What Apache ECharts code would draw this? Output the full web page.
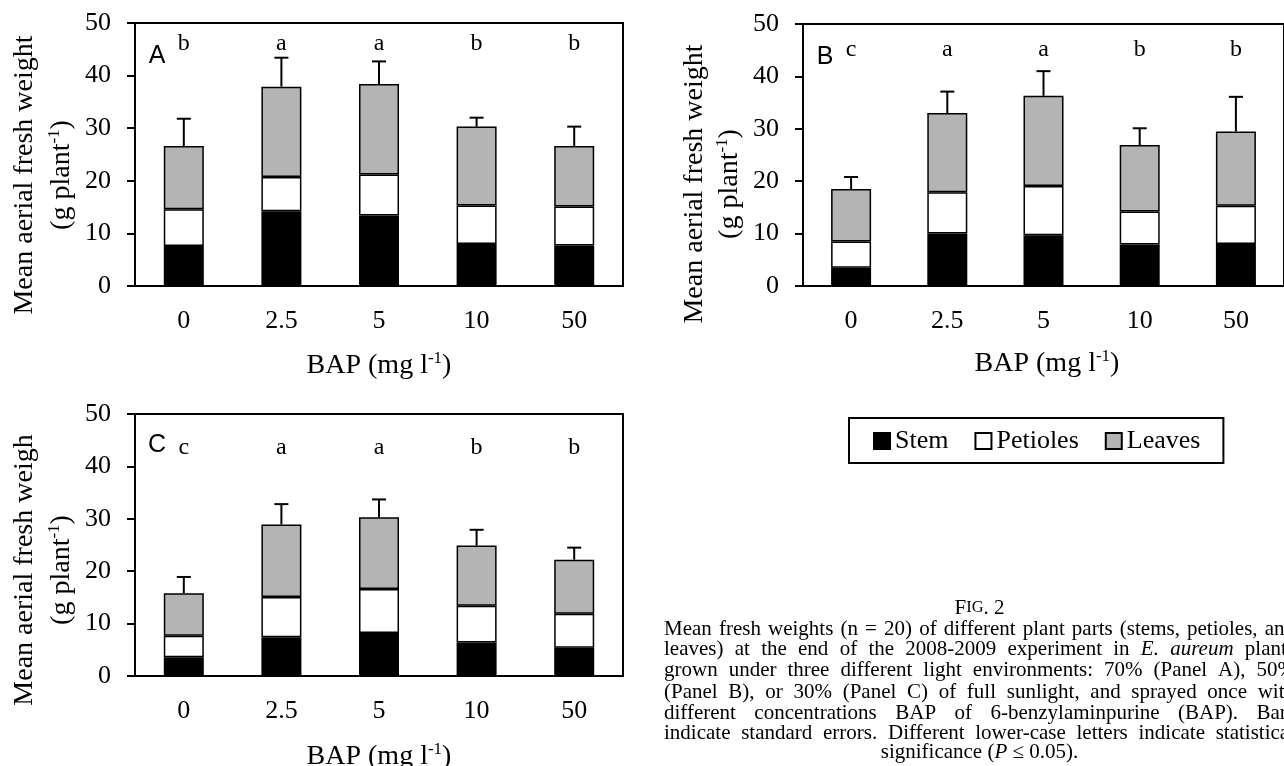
<!DOCTYPE html>
<html>
<head>
<meta charset="utf-8">
<script src="https://cdn.jsdelivr.net/npm/echarts@6/dist/echarts.min.js"></script>
<style>
  html, body { margin: 0; padding: 0; background: #fff; }
  #chart { width: 1284px; height: 766px; }
</style>
</head>
<body>
<div id="chart"></div>
<script>
// BAP concentrations (mg l-1)
const categories = ['0', '2.5', '5', '10', '50']

// Panel A (70% sunlight)
const stemA = [7.6, 14.2, 13.4, 8.0, 7.7]
const petiolesA = [7.0, 6.5, 7.8, 7.3, 7.4]
const leavesA = [12.0, 17.2, 17.2, 15.0, 11.5]
const seA = [5.2, 5.5, 4.3, 1.7, 3.7]
const sigA = ['b', 'a', 'a', 'b', 'b']

// Panel B (50% sunlight)
const stemB = [3.5, 10.0, 9.7, 7.9, 8.0]
const petiolesB = [5.0, 7.9, 9.4, 6.3, 7.3]
const leavesB = [10.0, 15.1, 17.2, 12.7, 14.2]
const seB = [2.3, 4.1, 4.7, 3.2, 6.6]
const sigB = ['c', 'a', 'a', 'b', 'b']

// Panel C (30% sunlight)
const stemC = [3.6, 7.4, 8.2, 6.4, 5.4]
const petiolesC = [4.1, 7.7, 8.4, 7.0, 6.5]
const leavesC = [8.1, 13.8, 13.7, 11.5, 10.3]
const seC = [3.1, 3.9, 3.4, 3.0, 2.3]
const sigC = ['c', 'a', 'a', 'b', 'b']

const yTicks = { min: 0, max: 50, interval: 10 }

const serif = '"Liberation Serif", "Times New Roman", serif'
const sans = '"Liberation Sans", Arial, sans-serif'
const grey = '#b4b4b4'

const panels = [
  { key: 'A', stem: stemA, pet: petiolesA, leaves: leavesA, se: seA, sig: sigA,
    grid: { left: 135, top: 23, width: 488, height: 263 }, letterAt: 46,
    yTitle: 'Mean aerial fresh weight', yTitleX: [25, 62], yTitleY: 175, xTitleY: 366 },
  { key: 'B', stem: stemB, pet: petiolesB, leaves: leavesB, se: seB, sig: sigB,
    grid: { left: 803, top: 24, width: 488, height: 262 }, letterAt: 45,
    yTitle: 'Mean aerial fresh weight', yTitleX: [695, 730], yTitleY: 184, xTitleY: 364 },
  { key: 'C', stem: stemC, pet: petiolesC, leaves: leavesC, se: seC, sig: sigC,
    grid: { left: 135, top: 414, width: 488, height: 262 }, letterAt: 43.5,
    yTitle: 'Mean aerial fresh weigh', yTitleX: [25, 62], yTitleY: 570, xTitleY: 757 }
]

const chart = echarts.init(document.getElementById('chart'))

const grids = []
const xAxes = []
const yAxes = []
const series = []
const graphics = []

function errorBar(params, api) {
  const base = api.coord([api.value(0), api.value(1)])
  const top = api.coord([api.value(0), api.value(2)])
  return {
    type: 'group',
    children: [
      { type: 'line', shape: { x1: top[0], y1: base[1], x2: top[0], y2: top[1] },
        style: { stroke: '#000', lineWidth: 2 } },
      { type: 'line', shape: { x1: top[0] - 7, y1: top[1], x2: top[0] + 7, y2: top[1] },
        style: { stroke: '#000', lineWidth: 2 } }
    ]
  }
}

panels.forEach((p, i) => {
  grids.push(Object.assign({ show: true, borderColor: '#000', borderWidth: 2, backgroundColor: 'transparent' }, p.grid))
  xAxes.push({
    type: 'category',
    gridIndex: i,
    data: categories,
    axisLine: { lineStyle: { color: '#000', width: 2 } },
    axisTick: { length: 9, lineStyle: { color: '#000', width: 2 } },
    axisLabel: { color: '#000', fontFamily: serif, fontSize: 26, margin: 22 }
  })
  yAxes.push({
    type: 'value',
    gridIndex: i,
    min: yTicks.min,
    max: yTicks.max,
    interval: yTicks.interval,
    splitLine: { show: false },
    axisLine: { show: true, lineStyle: { color: '#000', width: 2 } },
    axisTick: { show: true, length: 8, lineStyle: { color: '#000', width: 2 } },
    axisLabel: { color: '#000', fontFamily: serif, fontSize: 26, margin: 24 }
  })

  const parts = [
    ['Stem', p.stem, '#000'],
    ['Petioles', p.pet, '#fff'],
    ['Leaves', p.leaves, grey]
  ]
  parts.forEach(([name, values, color]) => {
    series.push({
      name: name,
      type: 'bar',
      xAxisIndex: i,
      yAxisIndex: i,
      stack: 'total' + p.key,
      barWidth: 40,
      data: values,
      itemStyle: { color: color, borderColor: '#000', borderWidth: 1.5 },
      emphasis: { disabled: true },
      animation: false
    })
  })

  // error bars: [category, bar total, total + SE]
  const errData = categories.map((c, k) => {
    const total = p.stem[k] + p.pet[k] + p.leaves[k]
    return [k, total, total + p.se[k]]
  })
  series.push({
    type: 'custom',
    xAxisIndex: i,
    yAxisIndex: i,
    renderItem: errorBar,
    encode: { x: 0, y: [1, 2] },
    data: errData,
    z: 5,
    animation: false
  })

  // significance letters
  series.push({
    type: 'custom',
    xAxisIndex: i,
    yAxisIndex: i,
    data: p.sig.map((s, k) => [k, p.letterAt]),
    renderItem: (params, api) => {
      const pt = api.coord([api.value(0), api.value(1)])
      return {
        type: 'text',
        x: pt[0],
        y: pt[1],
        style: {
          text: p.sig[params.dataIndex],
          fill: '#000',
          font: '24px ' + serif,
          align: 'center',
          verticalAlign: 'middle'
        }
      }
    },
    animation: false
  })

  // panel letter
  graphics.push({
    type: 'text', x: p.grid.left + 22, y: p.grid.top + (p.key === 'C' ? 31 : 33),
    style: { text: p.key, font: '25px ' + sans, fill: '#000', align: 'center', verticalAlign: 'middle' }
  })
  // y-axis title, two lines
  graphics.push({
    type: 'text', x: p.yTitleX[0], y: p.yTitleY, rotation: Math.PI / 2,
    style: { text: p.yTitle, font: '28px ' + serif, fill: '#000', align: 'center', verticalAlign: 'middle' }
  })
  graphics.push({
    type: 'text', x: p.yTitleX[1], y: p.yTitleY, rotation: Math.PI / 2,
    style: {
      text: '{a|(g plant}{s|-1}{a|)}',
      align: 'center', verticalAlign: 'middle',
      rich: {
        a: { fontFamily: serif, fontSize: 28, lineHeight: 32, fill: '#000', color: '#000' },
        s: { fontFamily: serif, fontSize: 17, lineHeight: 17, verticalAlign: 'top', fill: '#000', color: '#000' }
      }
    }
  })
  // x-axis title
  graphics.push({
    type: 'text', x: p.grid.left + p.grid.width / 2, y: p.xTitleY,
    style: {
      text: '{a|BAP (mg l}{s|-1}{a|)}',
      align: 'center', verticalAlign: 'middle',
      rich: {
        a: { fontFamily: serif, fontSize: 28, lineHeight: 32, fill: '#000', color: '#000' },
        s: { fontFamily: serif, fontSize: 17, lineHeight: 17, verticalAlign: 'top', fill: '#000', color: '#000' }
      }
    }
  })
})

// caption, justified like the printed figure
const capLeft = 664
const capRight = 1295
const capSize = 21
const capLines = [
  'Mean fresh weights (n = 20) of different plant parts (stems, petioles, and',
  'leaves) at the end of the 2008-2009 experiment in _E. _aureum plants',
  'grown under three different light environments: 70% (Panel A), 50%',
  '(Panel B), or 30% (Panel C) of full sunlight, and sprayed once with',
  'different concentrations BAP of 6-benzylaminpurine (BAP). Bars',
  'indicate standard errors. Different lower-case letters indicate statistical'
]
const capY = [629, 649, 670, 692, 713, 733]
const ctx = document.createElement('canvas').getContext('2d')
capLines.forEach((line, li) => {
  const words = line.split(' ').map(w => {
    const italic = w.startsWith('_')
    const text = italic ? w.slice(1) : w
    const font = (italic ? 'italic ' : '') + capSize + 'px ' + serif
    ctx.font = font
    return { text, font, w: ctx.measureText(text).width }
  })
  const sum = words.reduce((s, w) => s + w.w, 0)
  const gap = Math.max(4, (capRight - capLeft - sum) / (words.length - 1))
  let x = capLeft
  words.forEach(w => {
    graphics.push({
      type: 'text', x: x, y: capY[li],
      style: { text: w.text, font: w.font, fill: '#000', verticalAlign: 'middle' }
    })
    x += w.w + gap
  })
})
const capMid = (capLeft + capRight) / 2
graphics.push({
  type: 'text', x: capMid, y: 608,
  style: {
    text: '{c|F}{s|IG}{c|. 2}', align: 'center', verticalAlign: 'middle',
    rich: {
      c: { fontFamily: serif, fontSize: 21, color: '#000' },
      s: { fontFamily: serif, fontSize: 16.5, color: '#000' }
    }
  }
})
graphics.push({
  type: 'text', x: capMid, y: 752,
  style: {
    text: '{c|significance (}{i|P}{c| ≤ 0.05).}', align: 'center', verticalAlign: 'middle',
    rich: {
      c: { fontFamily: serif, fontSize: capSize, color: '#000' },
      i: { fontFamily: serif, fontSize: capSize, fontStyle: 'italic', color: '#000' }
    }
  }
})

chart.setOption({
  backgroundColor: '#fff',
  animation: false,
  grid: grids,
  xAxis: xAxes,
  yAxis: yAxes,
  legend: {
    data: ['Stem', 'Petioles', 'Leaves'],
    left: 849,
    top: 418,
    icon: 'rect',
    itemWidth: 16,
    itemHeight: 16,
    itemGap: 26,
    padding: [10, 23, 9, 24],
    borderColor: '#000',
    borderWidth: 2,
    selectedMode: false,
    textStyle: { fontFamily: serif, fontSize: 26, color: '#000' }
  },
  series: series,
  graphic: graphics
})
</script>
</body>
</html>
